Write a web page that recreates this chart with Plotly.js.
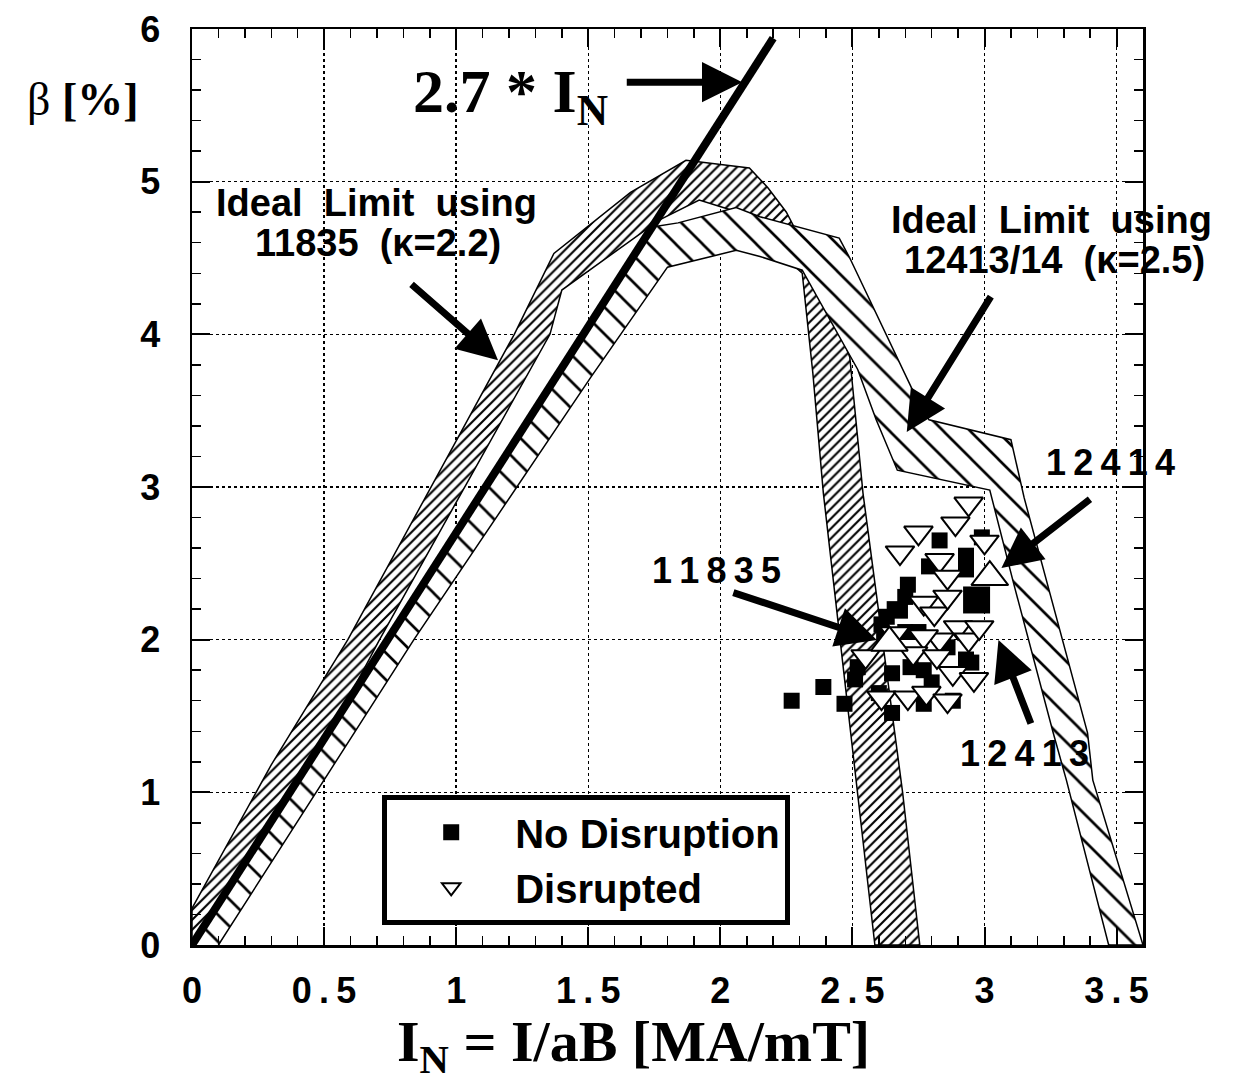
<!DOCTYPE html>
<html><head><meta charset="utf-8">
<script src="https://cdn.plot.ly/plotly-3.0.1.min.js"></script>
<style>html,body{margin:0;padding:0;background:#fff}</style>
</head><body><div id="chart" style="width:1242px;height:1083px"></div>
<script>
// ---- band: ideal limit using 11835 (kappa = 2.2) ----
const kappa22_x = [0.00, 0.00, 0.30, 0.59, 1.22, 1.37, 1.66, 1.87, 2.11, 2.18, 2.25, 2.37, 2.49, 2.54, 2.69, 2.755, 2.585, 2.52, 2.39, 2.35, 2.31, 2.05, 1.92, 1.77, 1.40, 1.355, 0.71, 0.10];
const kappa22_y = [0.00, 0.24, 1.18, 2.00, 4.00, 4.53, 4.93, 5.14, 5.09, 4.96, 4.80, 4.40, 3.85, 2.96, 1.00, 0.00, 0.00, 1.00, 2.96, 3.75, 4.40, 4.81, 4.88, 4.75, 4.29, 4.00, 2.00, 0.00];
// ---- band: ideal limit using 12413/14 (kappa = 2.5) ----
const kappa25_x = [0.00, 1.73, 1.84, 2.06, 2.15, 2.45, 2.49, 2.74, 2.79, 3.10, 3.15, 3.39, 3.41, 3.60, 3.47, 3.31, 3.26, 3.11, 3.02, 2.67, 2.59, 2.52, 2.31, 2.15, 2.06, 1.80, 1.51, 0.84, 0.10];
const kappa25_y = [0.00, 4.70, 4.73, 4.83, 4.77, 4.63, 4.50, 3.59, 3.44, 3.31, 2.93, 1.39, 1.08, 0.00, 0.00, 1.08, 1.39, 2.37, 2.98, 3.11, 3.44, 3.77, 4.42, 4.51, 4.55, 4.44, 3.72, 2.00, 0.00];
// ---- 2.7 * I_N line ----
const scaling_x = [0, 2.2];
const scaling_y = [0, 5.94];
// ---- shots without disruption ----
const noDisr_x = [2.27, 2.39, 2.47, 2.83, 2.65, 2.71, 2.93, 2.99, 2.63, 2.52, 2.65, 2.95, 2.88, 2.77, 2.51, 2.72, 2.79, 2.68, 2.93, 2.60, 2.75, 2.86, 2.62, 2.80, 2.70, 2.61, 2.66, 2.70, 2.93, 2.77];
const noDisr_y = [1.60, 1.69, 1.58, 2.65, 1.52, 2.36, 2.55, 2.67, 2.15, 1.82, 1.78, 1.85, 1.60, 1.58, 1.74, 1.82, 2.48, 2.19, 2.46, 1.65, 2.05, 1.95, 2.00, 1.72, 2.28, 2.10, 2.20, 2.05, 1.87, 1.80];
// ---- disrupted shots ----
const disr_x = [2.75, 2.89, 3.00, 2.68, 2.83, 2.86, 2.77, 2.81, 2.86, 2.90, 2.83, 2.77, 2.73, 2.55, 2.88, 2.96, 2.61, 2.71, 2.78, 2.86, 2.94, 2.98, 2.82, 2.94, 2.66];
const disr_y = [2.70, 2.76, 2.64, 2.57, 2.52, 2.41, 2.24, 2.17, 2.28, 2.08, 2.00, 2.02, 1.91, 1.89, 1.78, 1.74, 1.62, 1.62, 1.65, 1.60, 2.00, 2.08, 1.89, 2.89, 2.04];
// ---- highlighted shots 11835 / 12414 (open up-triangles) and 12413 (large square) ----
const hiUp_x = [2.64, 3.02];
const hiUp_y = [1.98, 2.41];
const hiSq_x = [2.97];
const hiSq_y = [2.26];
// ---- ticks ----
const xTickVals = [0, 0.5, 1, 1.5, 2, 2.5, 3, 3.5];
const xTickText = ['0', '0\u2009.\u20095', '1', '1\u2009.\u20095', '2', '2\u2009.\u20095', '3', '3\u2009.\u20095'];
const yTickVals = [0, 1, 2, 3, 4, 5, 6];
const yTickText = ['0', '1', '2', '3', '4', '5', '6'];

const SANS = 'Liberation Sans, Arial, Helvetica, sans-serif';
const SERIF = 'Liberation Serif, Times New Roman, serif';

const traces = [
  {x: kappa22_x, y: kappa22_y, type: 'scatter', mode: 'lines', fill: 'toself',
   line: {color: 'black', width: 1.5}, fillcolor: 'white',
   fillpattern: {shape: '/', size: 7, solidity: 0.3, fgcolor: 'black', bgcolor: 'white'},
   showlegend: false, hoverinfo: 'skip'},
  {x: kappa25_x, y: kappa25_y, type: 'scatter', mode: 'lines', fill: 'toself',
   line: {color: 'black', width: 1.5}, fillcolor: 'white',
   fillpattern: {shape: '\\', size: 19, solidity: 0.14, fgcolor: 'black', bgcolor: 'white'},
   showlegend: false, hoverinfo: 'skip'},
  {x: scaling_x, y: scaling_y, type: 'scatter', mode: 'lines',
   line: {color: 'black', width: 8}, showlegend: false, hoverinfo: 'skip'},
  {x: noDisr_x, y: noDisr_y, type: 'scatter', mode: 'markers', name: 'No Disruption',
   legendgroup: 'a',
   marker: {symbol: 'square', size: 16, color: 'black', line: {width: 0}}},
  {x: disr_x, y: disr_y, type: 'scatter', mode: 'markers', name: 'Disrupted',
   legendgroup: 'b',
   marker: {symbol: 'triangle-down', size: 25, color: 'white', line: {color: 'black', width: 2}}},
  {x: hiSq_x, y: hiSq_y, type: 'scatter', mode: 'markers', showlegend: false,
   marker: {symbol: 'square', size: 27, color: 'black', line: {width: 0}}},
  {x: hiUp_x, y: hiUp_y, type: 'scatter', mode: 'markers', showlegend: false,
   marker: {symbol: 'triangle-up', size: 32, color: 'white', line: {color: 'black', width: 2}}}
];

const lblFont = {family: SANS, size: 38, color: 'black', weight: 'bold'};
const numFont = {family: SANS, size: 36, color: 'black', weight: 'bold'};
function arrow(x, y, ax, ay) {
  return {x: x, y: y, xref: 'x', yref: 'y', ax: ax, ay: ay, text: '', showarrow: true,
          arrowhead: 2, arrowsize: 1.15, arrowwidth: 7, arrowcolor: 'black'};
}
function label(text, x, y, font) {
  return {x: x, y: y, xref: 'x', yref: 'y', text: text, showarrow: false,
          xanchor: 'center', yanchor: 'middle', font: font};
}
const pxX = p => (p - 193) / 265;
const pxY = p => (945 - p) / 152.7;

const annotations = [
  arrow(pxX(745), pxY(82), -117, 0),
  arrow(pxX(500), pxY(360), -88, -77),
  arrow(pxX(910), pxY(432), 85, -137),
  arrow(pxX(1005), pxY(568), 90, -70),
  arrow(pxX(880), pxY(640), -145, -48),
  arrow(pxX(1002), pxY(640), 33, 85),
  {x: pxX(413), y: pxY(95), xref: 'x', yref: 'y', text: '2.7 * I<sub>N</sub>', showarrow: false,
   xanchor: 'left', yanchor: 'middle', font: {family: SERIF, size: 62, color: 'black', weight: 'bold'}},
  label('Ideal  Limit  using', pxX(378), pxY(203), lblFont),
  label('11835  (\u03ba=2.2)', pxX(380), pxY(243), lblFont),
  label('Ideal  Limit  using', pxX(1055), pxY(220), lblFont),
  label('12413/14  (\u03ba=2.5)', pxX(1058), pxY(260), lblFont),
  label('1\u20092\u20094\u20091\u20094', pxX(1114), pxY(462), numFont),
  label('1\u20091\u20098\u20093\u20095', pxX(719), pxY(570), numFont),
  label('1\u20092\u20094\u20091\u20093', pxX(1028), pxY(753), numFont),
  {x: (633 - 192) / 951, y: (945 - 1045) / 916, xref: 'paper', yref: 'paper',
   text: 'I<sub>N</sub> = I/aB [MA/mT]', showarrow: false, xanchor: 'center', yanchor: 'middle',
   font: {family: SERIF, size: 58, color: 'black', weight: 'bold'}},
  {x: (83 - 192) / 951, y: (945 - 100) / 916, xref: 'paper', yref: 'paper',
   text: '\u03b2 <b>[%]</b>', showarrow: false, xanchor: 'center', yanchor: 'middle',
   font: {family: SERIF, size: 46, color: 'black'}}
];

const axisCommon = {
  ticks: 'inside', ticklen: 18, tickwidth: 2, tickcolor: 'black',
  showline: true, linecolor: 'black', linewidth: 2.5, mirror: 'ticks',
  showgrid: true, gridcolor: 'black', gridwidth: 1.5, griddash: 'dot',
  zeroline: false, tickfont: {family: SANS, size: 36, color: 'black', weight: 'bold'}
};

const layout = {
  width: 1242, height: 1083,
  margin: {l: 192, r: 99, t: 29, b: 138, pad: 0},
  paper_bgcolor: 'white', plot_bgcolor: 'white',
  hovermode: false,
  xaxis: Object.assign({}, axisCommon, {
    range: [0, 3.6], tickmode: 'array', tickvals: xTickVals, ticktext: xTickText,
    ticklabelstandoff: 12,
    minor: {dtick: 0.1, tick0: 0, ticks: 'inside', ticklen: 9, tickwidth: 1.5, tickcolor: 'black', showgrid: false}
  }),
  yaxis: Object.assign({}, axisCommon, {
    range: [0, 6], tickmode: 'array', tickvals: yTickVals, ticktext: yTickText,
    ticklabelstandoff: 22,
    minor: {dtick: 0.2, tick0: 0, ticks: 'inside', ticklen: 9, tickwidth: 1.5, tickcolor: 'black', showgrid: false}
  }),
  legend: {
    x: 0.2, y: 0.164, xanchor: 'left', yanchor: 'top',
    bgcolor: 'white', bordercolor: 'black', borderwidth: 5,
    font: {family: SANS, size: 40, color: 'black', weight: 'bold'},
    itemwidth: 118, tracegroupgap: 12, traceorder: 'normal'
  },
  annotations: annotations,
  showlegend: true
};

Plotly.newPlot('chart', traces, layout, {staticPlot: true, displayModeBar: false});
</script></body></html>
